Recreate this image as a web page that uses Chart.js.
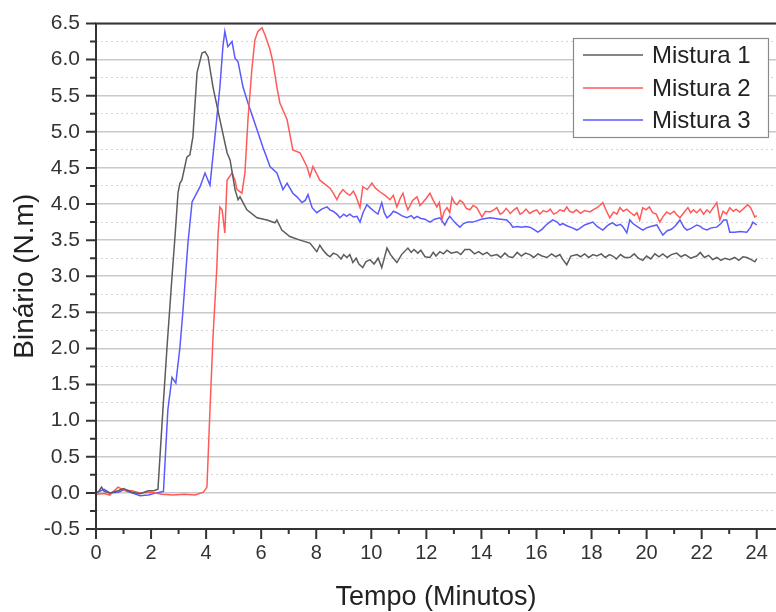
<!DOCTYPE html>
<html>
<head>
<meta charset="utf-8">
<script src="https://cdn.jsdelivr.net/npm/chart.js@4.4.1/dist/chart.umd.min.js"></script>
<style>
  html, body { margin: 0; padding: 0; background: #fff; overflow: hidden; }
  #wrap { width: 776px; height: 612px; }
</style>
</head>
<body>
<div id="wrap"><canvas id="c" width="776" height="612"></canvas></div>
<script>
// ---- Data ----
const seriesNames = ['Mistura 1', 'Mistura 2', 'Mistura 3'];
const xTickLabels = ['0','2','4','6','8','10','12','14','16','18','20','22','24'];
const yTickLabels = ['-0.5','0.0','0.5','1.0','1.5','2.0','2.5','3.0','3.5','4.0','4.5','5.0','5.5','6.0','6.5'];

const m1Time = [
  0, 0.1, 0.2, 0.3, 0.5, 0.8, 1.0, 1.3, 1.6, 1.9,
  2.1, 2.25, 2.43, 2.58, 2.76, 2.87, 2.98, 3.05, 3.12, 3.30,
  3.41, 3.52, 3.67, 3.85, 3.96, 4.07, 4.25, 4.50, 4.76, 4.87,
  5.05, 5.16, 5.23, 5.48, 5.85, 6.21, 6.50, 6.57, 6.75, 7.04,
  7.41, 7.77,
  8.02, 8.13, 8.25, 8.39, 8.50, 8.62, 8.75, 8.9, 9.0, 9.11,
  9.22, 9.33, 9.45, 9.55, 9.69, 9.8, 9.95, 10.1, 10.25, 10.38,
  10.57, 10.7, 10.8, 10.93, 11.1, 11.33, 11.45, 11.55, 11.69, 11.8,
  11.95, 12.13, 12.25, 12.35, 12.49, 12.62, 12.75, 12.9, 13.11, 13.25,
  13.4, 13.58, 13.75, 13.9, 14.05, 14.2, 14.35, 14.56, 14.7, 14.85,
  15.0, 15.14, 15.3, 15.45, 15.6, 15.76, 15.9, 16.05, 16.2, 16.38,
  16.55, 16.7, 16.85, 16.96, 17.10, 17.25, 17.47, 17.6, 17.75, 17.9,
  18.05, 18.19, 18.35, 18.5, 18.65, 18.77, 18.9, 19.05, 19.2, 19.39,
  19.55, 19.7, 19.86, 20.0, 20.15, 20.3, 20.45, 20.59, 20.75, 20.9,
  21.09, 21.25, 21.4, 21.6, 21.82, 21.95, 22.1, 22.25, 22.40, 22.55,
  22.7, 22.85, 23.02, 23.2, 23.35, 23.5, 23.64, 23.8, 23.93, 24.0
];
const m1Value = [
  0.0, 0.02, 0.08, 0.02, 0.0, 0.03, 0.06, 0.01, -0.01, 0.03,
  0.03, 0.05, 1.15, 2.02, 2.99, 3.55, 4.16, 4.29, 4.33, 4.65,
  4.68, 4.93, 5.82, 6.09, 6.11, 6.04, 5.62, 5.17, 4.71, 4.61,
  4.20, 4.06, 4.10, 3.92, 3.81, 3.78, 3.74, 3.78, 3.64, 3.55,
  3.50, 3.46,
  3.34, 3.43, 3.36, 3.30, 3.27, 3.32, 3.30, 3.24, 3.30, 3.26,
  3.30, 3.19, 3.25, 3.17, 3.12, 3.20, 3.23, 3.17, 3.25, 3.12,
  3.39, 3.30, 3.25, 3.19, 3.30, 3.39, 3.33, 3.37, 3.32, 3.36,
  3.27, 3.26, 3.33, 3.28, 3.34, 3.31, 3.36, 3.32, 3.34, 3.30,
  3.37, 3.37, 3.31, 3.34, 3.30, 3.33, 3.28, 3.30, 3.26, 3.32,
  3.27, 3.26, 3.33, 3.28, 3.32, 3.30, 3.26, 3.31, 3.28, 3.26,
  3.31, 3.27, 3.30, 3.23, 3.16, 3.28, 3.30, 3.27, 3.31, 3.26,
  3.30, 3.28, 3.31, 3.26, 3.30, 3.28, 3.24, 3.30, 3.26, 3.26,
  3.31, 3.25, 3.22, 3.28, 3.24, 3.31, 3.27, 3.31, 3.26, 3.30,
  3.32, 3.27, 3.30, 3.25, 3.28, 3.33, 3.26, 3.29, 3.23, 3.26,
  3.22, 3.25, 3.23, 3.26, 3.22, 3.27, 3.26, 3.23, 3.20, 3.24
];

const m2Time = [
  0, 0.3, 0.5, 0.8, 1.0, 1.3, 1.6, 2.0, 2.4, 2.8,
  3.2, 3.6, 3.9, 4.03, 4.14, 4.25, 4.39, 4.43, 4.50, 4.58,
  4.68, 4.76, 4.94, 5.05, 5.12, 5.30, 5.41, 5.52, 5.66, 5.77,
  5.88, 6.03, 6.14, 6.32, 6.43, 6.57, 6.68, 6.94, 7.15, 7.41,
  7.66, 7.77, 7.88,
  8.13, 8.3, 8.50, 8.62, 8.75, 8.85, 8.97, 9.1, 9.22, 9.35,
  9.45, 9.59, 9.69, 9.85, 10.02, 10.15, 10.31, 10.5, 10.68, 10.8,
  10.93, 11.05, 11.15, 11.25, 11.33, 11.5, 11.66, 11.77, 11.87, 12.0,
  12.13, 12.25, 12.38, 12.47, 12.56, 12.65, 12.75, 12.85, 12.93, 13.02,
  13.11, 13.22, 13.33, 13.45, 13.58, 13.7, 13.83, 14.02, 14.15, 14.31,
  14.45, 14.56, 14.68, 14.78, 14.9, 15.05, 15.18, 15.29, 15.40, 15.50,
  15.62, 15.75, 15.88, 16.01, 16.12, 16.25, 16.38, 16.5, 16.62, 16.74,
  16.85, 17.0, 17.10, 17.2, 17.32, 17.45, 17.6, 17.75, 17.94, 18.05,
  18.2, 18.3, 18.41, 18.52, 18.66, 18.8, 18.92, 19.03, 19.15, 19.28,
  19.39, 19.55, 19.65, 19.75, 19.86, 19.98, 20.1, 20.22, 20.35, 20.48,
  20.6, 20.73, 20.85, 21.0, 21.1, 21.21, 21.35, 21.50, 21.6, 21.7,
  21.82, 21.95, 22.07, 22.19, 22.3, 22.42, 22.55, 22.66, 22.78, 22.9,
  23.02, 23.15, 23.25, 23.38, 23.5, 23.67, 23.78, 23.93, 24.0
];
const m2Value = [
  -0.02, -0.01, -0.03, 0.08, 0.04, 0.03, 0.0, 0.01, -0.02, -0.03,
  -0.02, -0.03, 0.01, 0.08, 1.15, 2.16, 3.13, 3.55, 3.96, 3.92,
  3.60, 4.33, 4.43, 4.33, 4.20, 4.15, 4.43, 5.17, 5.86, 6.27,
  6.39, 6.44, 6.34, 6.14, 5.96, 5.62, 5.40, 5.17, 4.75, 4.71,
  4.52, 4.38, 4.52,
  4.33, 4.28, 4.22, 4.15, 4.06, 4.14, 4.20, 4.15, 4.12, 4.18,
  4.10, 3.95, 4.24, 4.20, 4.29, 4.22, 4.17, 4.12, 4.06, 4.12,
  3.96, 4.08, 4.15, 4.00, 3.92, 4.05, 4.10, 3.98, 4.02, 4.08,
  4.15, 4.05, 3.96, 4.02, 3.78, 3.90, 3.95, 3.88, 4.09, 4.02,
  3.99, 4.05, 4.02, 3.94, 3.92, 3.98, 3.95, 3.82, 3.90, 3.89,
  3.92, 3.95, 3.86, 3.88, 3.94, 3.87, 3.92, 3.95, 3.86, 3.88,
  3.93, 3.87, 3.90, 3.92, 3.86, 3.91, 3.89, 3.93, 3.86, 3.88,
  3.92, 3.90, 3.96, 3.90, 3.88, 3.92, 3.87, 3.91, 3.89, 3.92,
  3.95, 3.98, 4.02, 3.92, 3.81, 3.89, 3.86, 3.95, 3.90, 3.93,
  3.89, 3.84, 3.88, 3.78, 3.95, 3.92, 3.96, 3.88, 3.86, 3.75,
  3.83, 3.89, 3.86, 3.90, 3.85, 3.81, 3.88, 3.95, 3.88, 3.92,
  3.88, 3.93, 3.86, 3.92, 3.88, 3.95, 4.02, 3.78, 3.90, 3.86,
  3.95, 3.90, 3.93, 3.89, 3.93, 3.99, 3.95, 3.82, 3.84
];

const m3Time = [
  0, 0.3, 0.5, 0.8, 1.0, 1.3, 1.6, 1.9, 2.2, 2.45,
  2.61, 2.76, 2.90, 3.05, 3.16, 3.34, 3.49, 3.78, 3.96, 4.14,
  4.32, 4.50, 4.61, 4.68, 4.79, 4.94, 5.05, 5.16, 5.34, 5.52,
  5.85, 6.06, 6.32, 6.57, 6.79, 6.94,
  7.15, 7.3, 7.48, 7.6, 7.70, 7.85, 8.02, 8.2, 8.39, 8.5,
  8.61, 8.75, 8.86, 9.0, 9.1, 9.22, 9.35, 9.48, 9.59, 9.7,
  9.84, 9.95, 10.1, 10.24, 10.38, 10.47, 10.57, 10.7, 10.8, 10.93,
  11.1, 11.29, 11.45, 11.55, 11.66, 11.8, 11.95, 12.13, 12.3, 12.49,
  12.58, 12.67, 12.76, 12.85, 13.0, 13.1, 13.22, 13.35, 13.5, 13.69,
  13.85, 14.0, 14.15, 14.31, 14.5, 14.7, 14.92, 15.05, 15.14, 15.3,
  15.45, 15.6, 15.76, 15.9, 16.05, 16.2, 16.35, 16.48, 16.59, 16.75,
  16.85, 16.96, 17.1, 17.3, 17.47, 17.6, 17.75, 17.9, 18.05, 18.2,
  18.41, 18.55, 18.65, 18.77, 18.9, 19.05, 19.15, 19.28, 19.39, 19.5,
  19.65, 19.86, 20.0, 20.15, 20.37, 20.48, 20.59, 20.75, 20.9, 21.05,
  21.21, 21.35, 21.46, 21.6, 21.82, 21.95, 22.05, 22.19, 22.35, 22.55,
  22.7, 22.8, 22.91, 23.02, 23.2, 23.4, 23.64, 23.78, 23.86, 24.0
];
const m3Value = [
  0.0, 0.05, 0.0, 0.01, 0.04, 0.0, -0.04, -0.03, 0.0, 0.02,
  1.15, 1.60, 1.52, 2.02, 2.53, 3.46, 4.03, 4.24, 4.43, 4.26,
  4.93, 5.62, 6.18, 6.39, 6.18, 6.25, 6.02, 5.97, 5.62, 5.40,
  5.03, 4.79, 4.52, 4.43, 4.20, 4.29,
  4.15, 4.10, 4.02, 4.05, 4.13, 3.95, 3.88, 3.93, 3.96, 3.92,
  3.90, 3.86, 3.81, 3.86, 3.83, 3.86, 3.82, 3.83, 3.75, 3.88,
  3.99, 3.95, 3.90, 3.86, 4.02, 3.88, 3.81, 3.85, 3.90, 3.88,
  3.84, 3.81, 3.84, 3.80, 3.83, 3.80, 3.79, 3.75, 3.79, 3.81,
  3.76, 3.71, 3.78, 3.83, 3.76, 3.72, 3.68, 3.73, 3.75, 3.75,
  3.77, 3.79, 3.80, 3.81, 3.80, 3.79, 3.78, 3.73, 3.68, 3.69,
  3.68, 3.69, 3.68, 3.65, 3.61, 3.65, 3.71, 3.75, 3.78, 3.75,
  3.71, 3.73, 3.70, 3.67, 3.64, 3.67, 3.71, 3.73, 3.75, 3.69,
  3.64, 3.69, 3.72, 3.74, 3.70, 3.72, 3.68, 3.60, 3.78, 3.73,
  3.69, 3.64, 3.67, 3.69, 3.71, 3.64, 3.57, 3.63, 3.65, 3.70,
  3.78, 3.68, 3.64, 3.66, 3.71, 3.69, 3.66, 3.64, 3.67, 3.68,
  3.73, 3.78, 3.78, 3.61, 3.61, 3.62, 3.61, 3.68, 3.75, 3.71
];

const seriesColors = ['#5c5c5c', '#ff5a5a', '#5a5aff'];

function toPoints(ts, vs) { return ts.map((t, i) => ({ x: t, y: vs[i] })); }

const FONT = '"Liberation Sans", Arial, sans-serif';

const axesPlugin = {
  id: 'axesPlugin',
  afterDatasetsDraw(chart) {
    const { ctx, chartArea: { left, right, top, bottom }, scales: { x, y } } = chart;
    ctx.save();
    ctx.strokeStyle = '#333';
    ctx.lineWidth = 2;
    ctx.beginPath();
    ctx.moveTo(left, top); ctx.lineTo(right, top);
    ctx.moveTo(left, top - 1); ctx.lineTo(left, bottom + 1);
    ctx.moveTo(left - 1, bottom); ctx.lineTo(right, bottom);
    ctx.stroke();
    ctx.beginPath();
    y.ticks.forEach(t => {
      const py = y.getPixelForValue(t.value);
      const major = Math.abs(t.value * 2 - Math.round(t.value * 2)) < 1e-6;
      const len = major ? 10 : 6;
      ctx.moveTo(left - len, py); ctx.lineTo(left, py);
    });
    x.ticks.forEach(t => {
      const px = x.getPixelForValue(t.value);
      const major = Math.round(t.value) % 2 === 0;
      const len = major ? 10 : 5;
      ctx.moveTo(px, bottom); ctx.lineTo(px, bottom + len);
    });
    ctx.stroke();
    ctx.restore();
  }
};

const legendPlugin = {
  id: 'boxLegend',
  afterDraw(chart) {
    const { ctx } = chart;
    ctx.save();
    const bx = 573, by = 38, bw = 195, bh = 99;
    ctx.fillStyle = '#fff';
    ctx.fillRect(bx, by, bw, bh);
    ctx.strokeStyle = '#8a8a8a';
    ctx.lineWidth = 1.2;
    ctx.strokeRect(bx + 0.5, by + 0.5, bw, bh);
    const rows = [55, 88, 120];
    chart.data.datasets.forEach((ds, i) => {
      const yy = rows[i];
      ctx.strokeStyle = ds.borderColor;
      ctx.lineWidth = 1.5;
      ctx.beginPath(); ctx.moveTo(583, yy); ctx.lineTo(643, yy); ctx.stroke();
      ctx.fillStyle = '#222';
      ctx.font = '24px ' + FONT;
      ctx.textBaseline = 'middle';
      ctx.textAlign = 'left';
      ctx.fillText(ds.label, 652, yy + 1);
    });
    ctx.restore();
  }
};

new Chart(document.getElementById('c'), {
  type: 'line',
  data: {
    datasets: [
      { label: seriesNames[0], data: toPoints(m1Time, m1Value), borderColor: seriesColors[0] },
      { label: seriesNames[1], data: toPoints(m2Time, m2Value), borderColor: seriesColors[1] },
      { label: seriesNames[2], data: toPoints(m3Time, m3Value), borderColor: seriesColors[2] }
    ]
  },
  options: {
    responsive: false,
    animation: false,
    devicePixelRatio: 1,
    elements: {
      line: { borderWidth: 1.5, tension: 0 },
      point: { radius: 0 }
    },
    layout: { padding: { top: 23.5, right: 0, left: 0, bottom: 0 } },
    plugins: { legend: { display: false }, tooltip: { enabled: false } },
    scales: {
      x: {
        type: 'linear',
        min: 0, max: 24.7,
        afterFit(scale) {
          scale.height = 83;
          scale.paddingLeft = 0; scale.paddingRight = 0;
        },
        ticks: {
          stepSize: 1,
          includeBounds: false,
          autoSkip: false,
          maxRotation: 0,
          padding: 12,
          color: '#333',
          font: { family: FONT, size: 20 },
          callback: (v) => {
            const s = String(Math.round(v));
            return (Math.round(v) % 2 === 0 && xTickLabels.includes(s)) ? s : '';
          }
        },
        grid: { display: false, drawTicks: false },
        border: { display: false },
        title: {
          display: true, text: 'Tempo (Minutos)', color: '#222',
          font: { family: FONT, size: 27, lineHeight: 1 },
          padding: { top: 0, bottom: 1 }
        }
      },
      y: {
        type: 'linear',
        min: -0.5, max: 6.5,
        afterFit(scale) {
          scale.width = 96;
          scale.paddingTop = 0; scale.paddingBottom = 0;
        },
        ticks: {
          stepSize: 0.25,
          autoSkip: false,
          padding: 16,
          color: '#333',
          font: { family: FONT, size: 21 },
          callback: (v) => {
            const s = Number(v).toFixed(1);
            const major = Math.abs(v * 2 - Math.round(v * 2)) < 1e-6;
            return (major && yTickLabels.includes(s)) ? s : '';
          }
        },
        grid: {
          drawTicks: false,
          color: (c) => {
            const v = c.tick ? c.tick.value : 0;
            return Math.abs(v * 2 - Math.round(v * 2)) < 1e-6 ? '#c9c9c9' : '#d6d6d6';
          },
          lineWidth: (c) => {
            const v = c.tick ? c.tick.value : 0;
            return Math.abs(v * 2 - Math.round(v * 2)) < 1e-6 ? 1.6 : 1;
          }
        },
        border: {
          display: false,
          dash: (c) => {
            const v = c.tick ? c.tick.value : 0;
            return Math.abs(v * 2 - Math.round(v * 2)) < 1e-6 ? [] : [2, 3];
          }
        },
        title: {
          display: true, text: 'Binário (N.m)', color: '#222',
          font: { family: FONT, size: 28, lineHeight: 1 },
          padding: { top: 11, bottom: 0 }
        }
      }
    }
  },
  plugins: [axesPlugin, legendPlugin]
});
</script>
</body>
</html>
